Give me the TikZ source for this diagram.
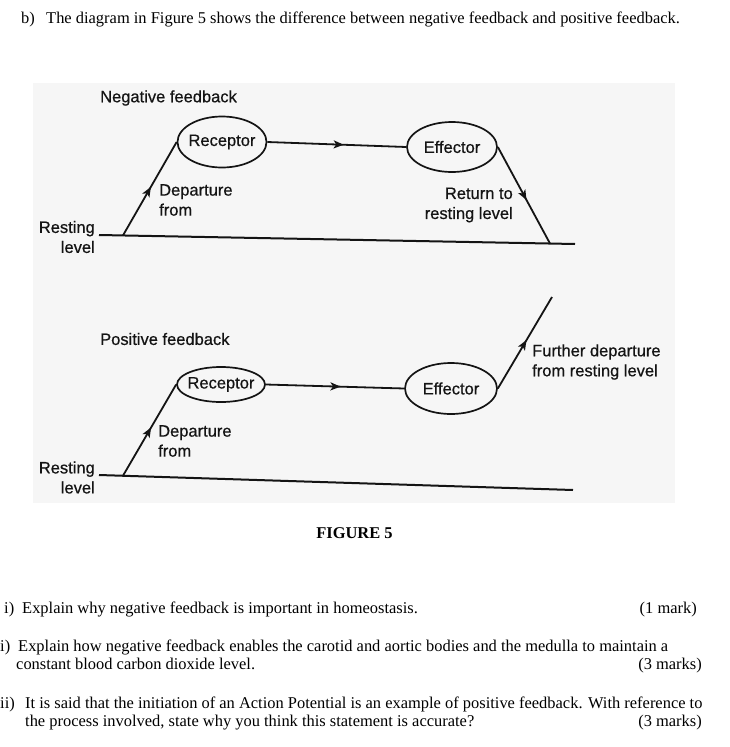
\documentclass[tikz,border=0pt]{standalone}
\usepackage{fontspec}
\setmainfont{Liberation Serif}
\newfontfamily\diagfont[FakeBold=0.6]{Liberation Sans}
\usetikzlibrary{shapes.geometric,arrows.meta,decorations.markings}
\tikzset{
  conn/.style={line width=1.8pt, draw=black!92},
  baseln/.style={line width=2pt, draw=black!92},
  midarrow/.style={postaction={decorate}, decoration={markings,
     mark=at position #1 with {\arrow{Stealth[length=10pt,width=8pt,inset=2.5pt]}}}},
  midarrow/.default=0.5,
  ellipsebox/.style={ellipse, draw=black!92, line width=1.7pt, inner sep=0pt},
  lbl/.style={font=\diagfont\fontsize{16.5}{20}\selectfont, inner sep=0pt, text=black!92},
  qtext/.style={font=\fontsize{16.45}{19}\selectfont, inner sep=0pt, anchor=base west},
  qright/.style={font=\fontsize{16.45}{19}\selectfont, inner sep=0pt, anchor=base east},
}
\begin{document}
\begin{tikzpicture}[x=1pt,y=-1pt]
\useasboundingbox (0,0) rectangle (730,747);
\fill[white] (0,0) rectangle (730,747);
% scanned figure background
\fill[gray!7] (33,83) rectangle (675,503);

% ---------- Negative feedback ----------
\node[lbl, anchor=west] (negtitle) at (100,98) {Negative feedback};
\node[ellipsebox, minimum width=89pt, minimum height=51pt] (rn) at (222,142) {};
\node[lbl] (rntext) at (rn.center) {Receptor};
\node[ellipsebox, minimum width=90pt, minimum height=50pt] (en) at (452,147) {};
\node[lbl] (entext) at (en.center) {Effector};

\coordinate (nb1) at (99,235);
\coordinate (nb2) at (575,244);
\coordinate (nl) at (123,235.4);
\coordinate (nr) at (550,243.5);
\draw[baseln] (nb1) -- (nb2);
\draw[conn, midarrow=0.52] (nl) -- (rn.west);
\draw[conn, midarrow=0.55] (rn.east) -- (en.west);
\draw[conn, midarrow=0.55] (en.east) -- (nr);

\node[lbl, anchor=west, align=left] (ndep) at (159,200) {Departure\\from};
\node[lbl, anchor=east, align=right] (nrest) at (95,237) {Resting\\level};
\node[lbl, anchor=east, align=right] (nret) at (513,205) {Return to\\resting level};

% ---------- Positive feedback ----------
\node[lbl, anchor=west] (postitle) at (100,339) {Positive feedback};
\node[ellipsebox, minimum width=88pt, minimum height=35pt] (rp) at (221,384.5) {};
\node[lbl] (rptext) at (rp.center) {Receptor};
\node[ellipsebox, minimum width=92pt, minimum height=51pt] (ep) at (451,388.5) {};
\node[lbl] (eptext) at (ep.center) {Effector};

\coordinate (pb1) at (99,475);
\coordinate (pb2) at (573,490);
\coordinate (pl) at (123,475.7);
\coordinate (pr) at (552,297);
\draw[baseln] (pb1) -- (pb2);
\draw[conn, midarrow=0.53] (pl) -- (rp.west);
\draw[conn, midarrow=0.54] (rp.east) -- (ep.west);
\draw[conn, midarrow=0.53] (ep.east) -- (pr);

\node[lbl, anchor=west, align=left] (pdep) at (158,441) {Departure\\from};
\node[lbl, anchor=east, align=right] (prest) at (95,477.5) {Resting\\level};
\node[lbl, anchor=west, align=left] (pfur) at (532,362) {Further departure\\from resting level};

% ---------- Question text ----------
\node[qtext] (qb) at (21,23) {b)};
\node[qtext] (qbt) at (46,23) {The diagram in Figure 5 shows the difference between negative feedback and positive feedback.};
\node[font=\fontsize{16.45}{19}\selectfont\bfseries, inner sep=0pt, anchor=base] (fig) at (354.5,538) {FIGURE 5};

\node[qtext] (q1n) at (4,613) {i)};
\node[qtext] (q1) at (22,613) {Explain why negative feedback is important in homeostasis.};
\node[qright] (q1m) at (697,613) {(1 mark)};

\node[qtext] (q2n) at (0,651) {i)};
\node[qtext] (q2) at (18,651) {Explain how negative feedback enables the carotid and aortic bodies and the medulla to maintain a};
\node[qtext] (q2b) at (16,669) {constant blood carbon dioxide level.};
\node[qright] (q2m) at (702,669) {(3 marks)};

\node[qtext] (q3n) at (0,708) {ii)};
\node[qtext] (q3) at (25,708) {It is said that the initiation of an Action Potential is an example of positive feedback. With reference to};
\node[qtext] (q3b) at (25,726) {the process involved, state why you think this statement is accurate?};
\node[qright] (q3m) at (702,726) {(3 marks)};
\end{tikzpicture}
\end{document}
